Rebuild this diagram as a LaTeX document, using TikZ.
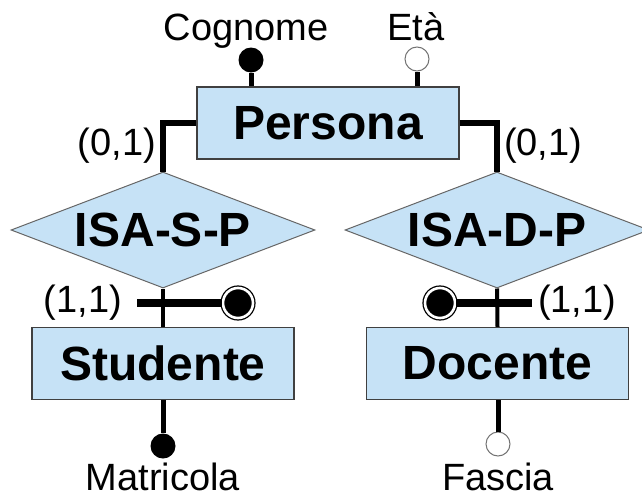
\documentclass[tikz,border=0pt]{standalone}
\usepackage{fontspec}
\setmainfont{Liberation Sans}
\usetikzlibrary{shapes.geometric}
\definecolor{erblue}{RGB}{198,226,246}

\begin{document}
\begin{tikzpicture}[x=1pt, y=-1pt, line join=miter,
	entity/.style={draw=black!75, line width=1.3pt, fill=erblue, minimum width=262pt, minimum height=72pt, inner sep=0pt, font=\fontsize{48}{50}\selectfont\bfseries},
	isa/.style={diamond, aspect=2.6, draw=black!60, line width=1pt, fill=erblue, minimum width=304pt, minimum height=116pt, inner sep=0pt, font=\fontsize{48}{50}\selectfont\bfseries},
	keyattr/.style={circle, fill=black, minimum size=25pt, inner sep=0pt},
	plainattr/.style={circle, draw=black!55, line width=1pt, fill=white, minimum size=24pt, inner sep=0pt},
	extkey/.style={circle, fill=black, draw=black, line width=1.3pt, double=white, double distance=2.6pt, minimum size=30pt, inner sep=0pt},
	lbl/.style={inner sep=0pt, font=\fontsize{38}{40}\selectfont},
	conn/.style={line width=6pt},
	stem/.style={line width=5pt},
	isaline/.style={line width=4pt},
	bar/.style={line width=8pt}]
	\useasboundingbox (0,0) rectangle (642,498);
	\node[entity] (persona) at (328,123) {Persona};
	\node[isa] (isas) at (163,230) {ISA-S-P};
	\node[isa] (isad) at (497,230) {ISA-D-P};
	\node[entity] (studente) at (163,363.5) {Studente};
	\node[entity] (docente) at (497.5,363.5) {Docente};
	\node[keyattr] (cognome) at (251,60) {};
	\node[plainattr] (eta) at (417,59) {};
	\node[keyattr] (matricola) at (163,446) {};
	\node[plainattr] (fascia) at (498,444) {};
	\node[lbl, anchor=base] (cognomeText) at (246,40) {Cognome};
	\node[lbl, anchor=base] (etaText) at (416,40) {Età};
	\node[lbl, anchor=base] (matricolaText) at (163,490) {Matricola};
	\node[lbl, anchor=base] (fasciaText) at (498,490) {Fascia};
	\draw[stem] (cognome) -- (cognome |- persona.north);
	\draw[stem] (eta) -- (eta |- persona.north);
	\draw[stem] (matricola) -- (matricola |- studente.south);
	\draw[stem] (fascia) -- (fascia |- docente.south);
	\draw[conn] (persona.west) -| (isas.north);
	\draw[conn] (persona.east) -| (isad.north);
	\node[lbl, anchor=east] (cardSP) at (156,146) {(0,1)};
	\node[lbl, anchor=west] (cardDP) at (504,146) {(0,1)};
	\draw[isaline] (isas.south) -- (studente.north);
	\draw[isaline] (isad.south) -- (docente.north);
	\coordinate (barS) at (137,303);
	\coordinate (barD) at (532,303);
	\node[extkey] (idS) at (238,303) {};
	\node[extkey] (idD) at (440,303) {};
	\draw[bar] (barS) -- (idS);
	\draw[bar] (barD) -- (idD);
	\node[lbl, anchor=east] (cardS) at (122,303) {(1,1)};
	\node[lbl, anchor=west] (cardD) at (538,303) {(1,1)};
\end{tikzpicture}
\end{document}
